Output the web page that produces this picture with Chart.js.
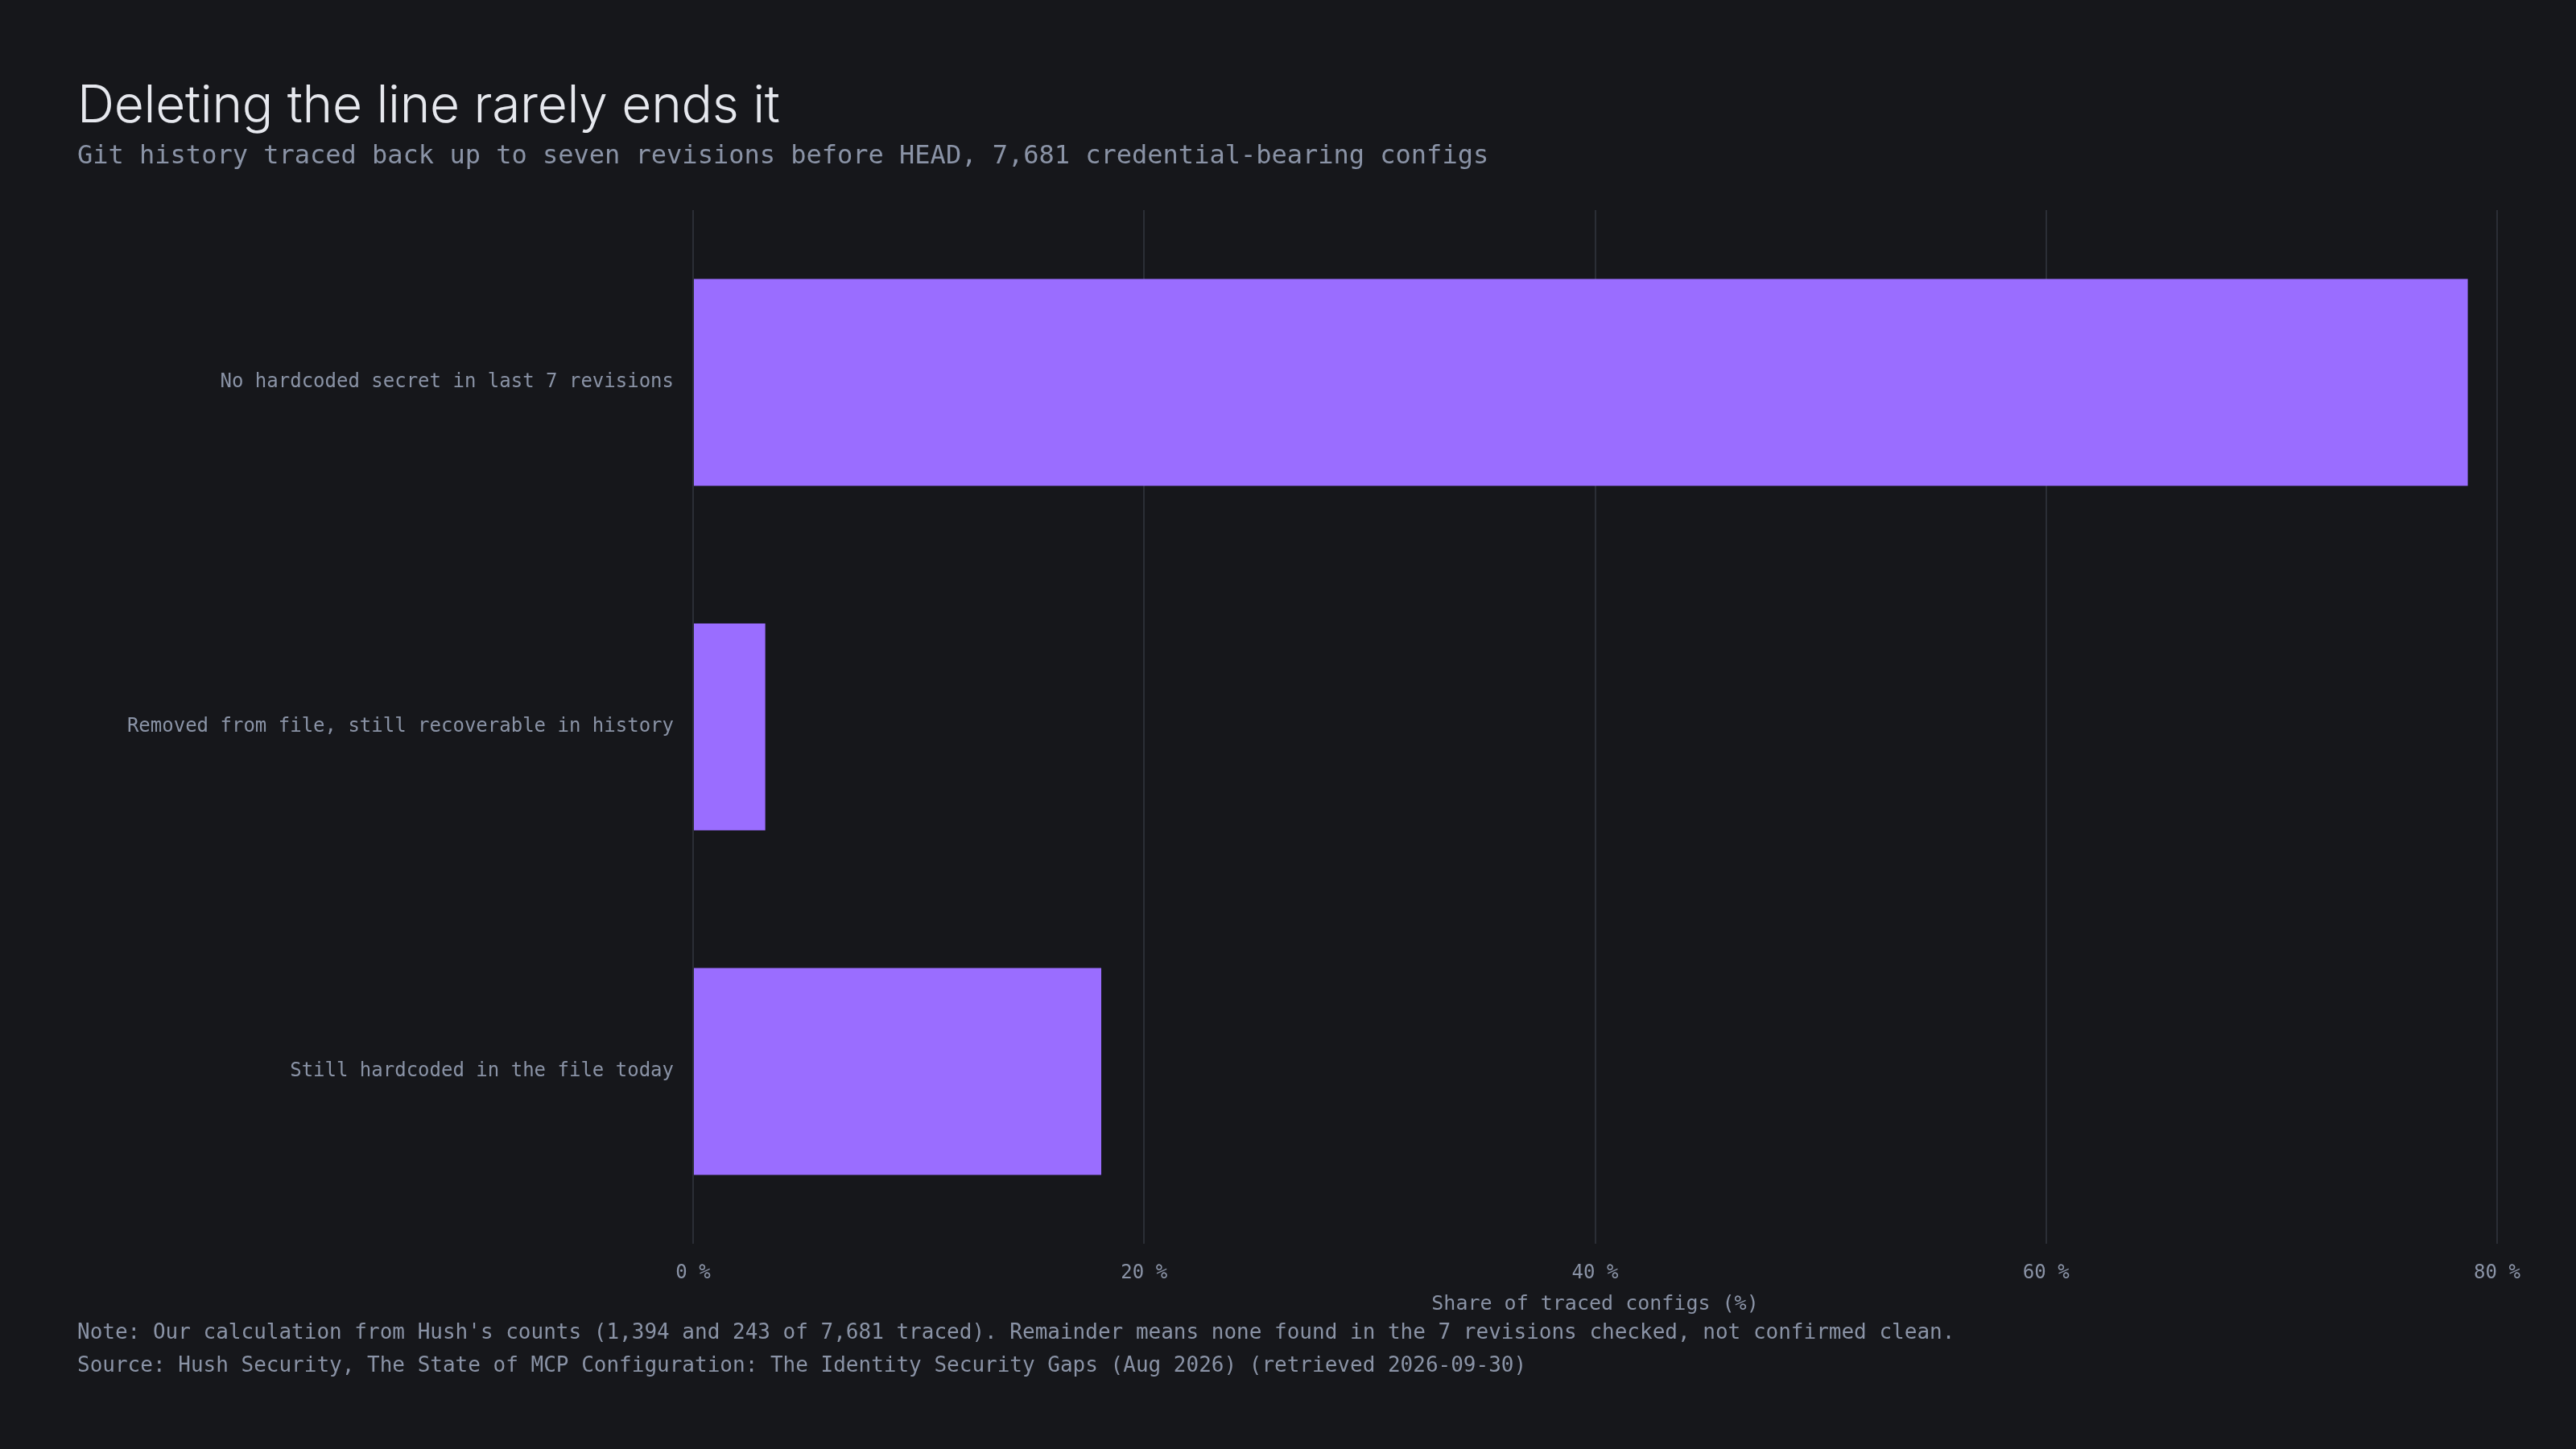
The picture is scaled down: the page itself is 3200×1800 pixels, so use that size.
<!DOCTYPE html>
<html>
<head>
<meta charset="utf-8">
<script src="https://cdn.jsdelivr.net/npm/chart.js@4.4.1/dist/chart.umd.min.js"></script>
<style>
  html, body { margin: 0; padding: 0; background: #16171b; }
  #wrap { position: relative; width: 3200px; height: 1800px; }
  #chart { position: absolute; left: 0; top: 0; }
  .txt { position: absolute; left: 96px; white-space: nowrap; }
  #titulo { top: 90px; font-family: Inter, sans-serif; font-weight: 300; font-size: 64px; color: #e6e8ee; letter-spacing: -0.3px; }
  #subtitulo { top: 173px; font-family: "DejaVu Sans Mono", monospace; font-size: 32px; color: #8a93a6; }
  .nota { font-family: "DejaVu Sans Mono", monospace; font-size: 26px; color: #8a93a6; }
  #nota1 { top: 1639px; }
  #nota2 { top: 1680px; }
</style>
</head>
<body>
<div id="wrap">
  <canvas id="chart" width="3200" height="1800"></canvas>
  <div id="titulo" class="txt">Deleting the line rarely ends it</div>
  <div id="subtitulo" class="txt">Git history traced back up to seven revisions before HEAD, 7,681 credential-bearing configs</div>
  <div id="nota1" class="txt nota">Note: Our calculation from Hush's counts (1,394 and 243 of 7,681 traced). Remainder means none found in the 7 revisions checked, not confirmed clean.</div>
  <div id="nota2" class="txt nota">Source: Hush Security, The State of MCP Configuration: The Identity Security Gaps (Aug 2026) (retrieved 2026-09-30)</div>
</div>
<script>
// --- DATOS ---
const categorias = [
    'No hardcoded secret in last 7 revisions',
    'Removed from file, still recoverable in history',
    'Still hardcoded in the file today'
];
const porcentajes = [78.7, 3.2, 18.1];
const ticksX = [0, 20, 40, 60, 80];

const GRIS = '#8a93a6';
const MONO = '"DejaVu Sans Mono", monospace';

const ctx = document.getElementById('chart').getContext('2d');
new Chart(ctx, {
    type: 'bar',
    data: {
        labels: categorias,
        datasets: [{
            label: 'Share of traced configs (%)',
            data: porcentajes,
            backgroundColor: '#9a6dff',
            borderWidth: 0,
            barPercentage: 0.6,
            categoryPercentage: 1
        }]
    },
    options: {
        indexAxis: 'y',
        responsive: false,
        animation: false,
        layout: { padding: { top: 261, left: 96, right: 98, bottom: 165 } },
        plugins: {
            legend: { display: false },
            tooltip: { enabled: false }
        },
        scales: {
            x: {
                min: ticksX[0],
                max: ticksX[ticksX.length - 1],
                afterBuildTicks: function(scale) {
                    scale.ticks = ticksX.map(v => ({ value: v }));
                },
                afterFit: function(scale) { scale.height = 90; },
                grid: { color: '#2b2e36', lineWidth: 2, drawTicks: false },
                border: { display: false },
                ticks: {
                    padding: 22,
                    color: GRIS,
                    font: { family: MONO, size: 24 },
                    callback: function(value) { return value + ' %'; }
                },
                title: {
                    display: true,
                    text: 'Share of traced configs (%)',
                    color: GRIS,
                    font: { family: MONO, size: 25 },
                    padding: 0
                }
            },
            y: {
                afterFit: function(scale) { scale.width = 765; },
                grid: { display: false },
                border: { display: false },
                ticks: {
                    padding: 16,
                    color: GRIS,
                    font: { family: MONO, size: 24 }
                }
            }
        }
    }
});
</script>
</body>
</html>
